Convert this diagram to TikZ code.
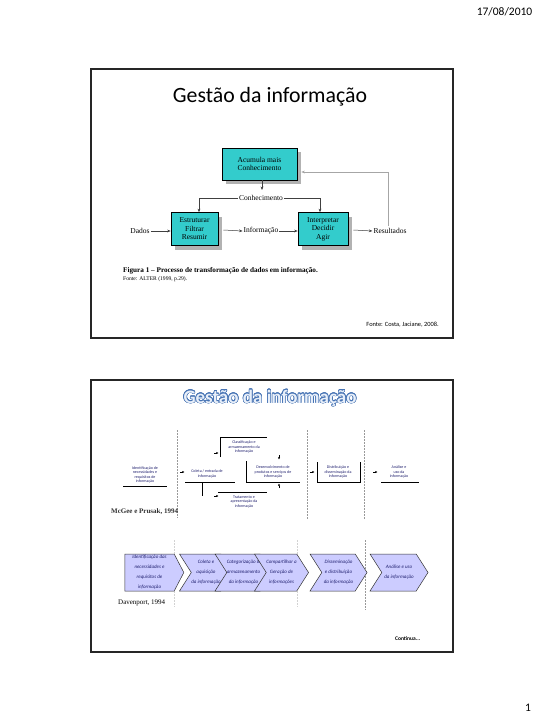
\documentclass[tikz,border=0pt]{standalone}
\usepackage{fontspec}
\setmainfont{Liberation Serif}
\newfontfamily\calib{Carlito}
\usetikzlibrary{arrows.meta,shapes.symbols,shadows}
\definecolor{tealbox}{RGB}{51,204,204}
\definecolor{lav}{RGB}{204,204,255}
\definecolor{navytext}{RGB}{31,31,110}
\definecolor{tblue}{RGB}{70,115,180}
\definecolor{tfill}{RGB}{232,239,249}
\begin{document}
\begin{tikzpicture}[x=1pt,y=-1pt,
  frame/.style={draw=black!85,line width=1.4pt},
  tbox/.style={draw=black,line width=0.6pt,fill=tealbox,align=center,inner sep=1pt,
    font=\fontsize{7.5}{8.5}\selectfont,
    drop shadow={shadow xshift=4pt,shadow yshift=-4pt,fill=gray!60,opacity=1}},
  lbl/.style={font=\fontsize{7.5}{8.5}\selectfont,inner sep=1pt},
  arr/.style={-{Stealth[length=3.5pt,width=2.8pt]},draw=black!75,line width=0.5pt},
  garr/.style={-{Stealth[length=3.5pt,width=2.8pt]},draw=gray!70,line width=0.6pt},
  ttl/.style={font=\calib\bfseries\fontsize{19}{21}\selectfont},
  mtxt/.style={font=\calib\fontsize{4}{4.5}\selectfont,text=navytext,align=center,inner sep=0pt},
  mline/.style={draw=black,line width=0.8pt},
  tiny/.style={-{Latex[length=2.2pt,width=2.2pt]},draw=black,line width=0.4pt},
  sep/.style={draw=gray!80,dashed,dash pattern=on 1.5pt off 1.5pt,line width=0.6pt},
  chev/.style={shape=signal,draw=gray!40!black,line width=0.5pt,fill=lav,signal to=east,
    signal pointer angle=115,minimum height=37pt,inner sep=0pt,align=center,
    font=\calib\itshape\fontsize{5}{10}\selectfont,text=navytext}]
\useasboundingbox (0,0) rectangle (540,720);
\fill[white] (0,0) rectangle (540,720);

% page header and number
\node[font=\calib\fontsize{11.5}{13}\selectfont] (date) at (504.5,12) {17/08/2010};
\node[font=\calib\fontsize{11.5}{13}\selectfont] (pnum) at (528,708) {1};

% ---------------- slide 1 ----------------
\draw[frame] (91,69) rectangle (453,338);
\node[font=\calib\fontsize{21.8}{24}\selectfont] (t1) at (270,97) {Gestão da informação};

\node[tbox,minimum width=75pt,minimum height=32pt] (acc) at (259.5,164) {Acumula mais\\Conhecimento};
\node[tbox,minimum width=47pt,minimum height=33pt] (est) at (194.5,229) {Estruturar\\Filtrar\\Resumir};
\node[tbox,minimum width=50pt,minimum height=33pt] (int) at (323,229) {Interpretar\\Decidir\\Agir};

\node[lbl] (conh) at (261,198) {Conhecimento};
\node[lbl] (dados) at (140,231) {Dados};
\node[lbl] (info) at (261,231) {Informação};
\node[lbl] (res) at (390,231) {Resultados};

\coordinate (kdown) at (262,190);
\draw[arr] (acc.south -| kdown) -- (kdown);
\draw[arr] (conh.west) -| ([shift={(4.5,0)}]est.north);
\draw[arr] (conh.east) -| ([shift={(-3,0)}]int.north);
\draw[arr] (dados.east) -- (est.west |- dados.east);
\draw[arr] ([shift={(5,1)}]est.east) -- (info.west);
\draw[arr] (info.east) -- (int.west |- info.east);
\draw[arr] ([shift={(5,1)}]int.east) -- (res.west);
\coordinate (fb) at (388,226);
\draw[garr] (fb) |- ([shift={(4,8)}]acc.east);

\node[anchor=west,font=\bfseries\fontsize{7.2}{8}\selectfont,inner sep=0pt] (cap) at (123,271)
  {Figura 1 -- Processo de transformação de dados em informação.};
\node[anchor=west,font=\fontsize{5.6}{6.5}\selectfont,inner sep=0pt] (capsrc) at (123,279)
  {Fonte: ALTER (1999, p.29).};
\node[anchor=east,font=\calib\fontsize{6.4}{7}\selectfont,inner sep=0pt] (src1) at (439,325)
  {Fonte: Costa, Jaciane, 2008.};

% ---------------- slide 2 ----------------
\draw[frame] (91,380) rectangle (453,652);
\foreach \a in {0,22.5,...,337.5}
  \node[ttl,text=tblue] (tc\a) at ([shift={(\a:0.55)}]270,398) {Gestão da informação};
\node[ttl,text=tfill] (t2) at (270,398) {Gestão da informação};

% McGee & Prusak
\draw[sep] (177,430) -- (177,518);
\draw[sep] (307,430) -- (307,520);
\draw[sep] (364,430) -- (364,520);

\node[mtxt] (m1) at (145,475) {Identificação de\\necessidades e\\requisitos de\\informação};
\coordinate (m1a) at (123,486); \coordinate (m1b) at (167,486);
\draw[mline] (m1a) -- (m1b);

\node[mtxt] (m2) at (207,474) {Coleta / entrada de\\informação};
\coordinate (m2a) at (185,482); \coordinate (m2b) at (235,482);
\coordinate (m2c) at (202,482); \coordinate (m2d) at (202,496);
\draw[mline] (m2a) -- (m2b);
\draw[mline] (m2c) -- (m2d);
\coordinate (a2s) at (180,472); \coordinate (a2e) at (184.5,472);
\draw[tiny] (a2s) -- (a2e);

\node[mtxt] (m3) at (244,447) {Classificação e\\armazenamento da\\informação};
\coordinate (m3a) at (220,457); \coordinate (m3b) at (220,437); \coordinate (m3c) at (267,437);
\draw[mline] (m3a) -- (m3b) -- (m3c);
\coordinate (a3s) at (214,453); \coordinate (a3e) at (218.5,453);
\draw[tiny] (a3s) -- (a3e);

\node[mtxt] (m4) at (244,502) {Tratamento e\\apresentação da\\informação};
\coordinate (m4a) at (218,492); \coordinate (m4b) at (267,492);
\draw[mline] (m4a) -- (m4b);
\coordinate (a4s) at (214,496); \coordinate (a4e) at (218.5,496);
\draw[tiny] (a4s) -- (a4e);

\node[mtxt] (m5) at (273,472) {Desenvolvimento de\\produtos e serviços de\\informação};
\coordinate (m5a) at (246,461); \coordinate (m5b) at (246,482); \coordinate (m5c) at (300,482);
\draw[mline] (m5a) -- (m5b) -- (m5c);
\coordinate (a5s) at (279,455); \coordinate (a5e) at (279,459.5);
\draw[tiny] (a5s) -- (a5e);
\coordinate (a6s) at (279,488); \coordinate (a6e) at (279,483.5);
\draw[tiny] (a6s) -- (a6e);

\node[mtxt] (m6) at (338,472) {Distribuição e\\disseminação da\\informação};
\coordinate (m6a) at (317,462); \coordinate (m6b) at (317,482);
\coordinate (m6c) at (360,482); \coordinate (m6d) at (360,462);
\draw[mline] (m6a) -- (m6b) -- (m6c) -- (m6d);
\coordinate (a7s) at (310,472); \coordinate (a7e) at (314.5,472);
\draw[tiny] (a7s) -- (a7e);

\node[mtxt] (m7) at (399,472) {Análise e\\uso da\\informação};
\coordinate (m7a) at (381,482); \coordinate (m7b) at (419,482);
\draw[mline] (m7a) -- (m7b);
\coordinate (a8s) at (373,472); \coordinate (a8e) at (377.5,472);
\draw[tiny] (a8s) -- (a8e);

\node[anchor=west,font=\bfseries\fontsize{7}{8}\selectfont,text=black!80,inner sep=0pt] (mg) at (111,512) {McGee e Prusak, 1994};

% Davenport
\draw[sep,draw=gray!35] (174,540) -- (174,607);
\draw[sep,draw=gray!35] (297,540) -- (297,607);
\draw[sep] (365,540) -- (365,610);

\node[chev,signal pointer angle=125,minimum width=59pt] (d1) at (149.5,572.5)
  {Identificação das\\necessidades e\\requisitos de\\informação};
\node[chev,signal from=west,minimum width=49pt] (d2) at (206,572.5) {Coleta e\\aquisição\\da informação};
\node[chev,signal from=west,minimum width=49pt] (d3) at (243.5,572.5) {Categorização \&\\armazenamento\\da informação};
\node[chev,signal from=west,minimum width=49pt] (d4) at (281.5,572.5) {Compartilhar a\\Geração de\\informações};
\node[chev,signal from=west,minimum width=57pt] (d5) at (338.5,572.5) {Disseminação\\e distribuição\\da informação};
\node[chev,signal from=west,minimum width=58pt] (d6) at (399,572.5) {Análise e uso\\da informação};

\node[anchor=west,font=\fontsize{7}{8}\selectfont,inner sep=0pt] (dv) at (118,603) {Davenport, 1994};
\node[anchor=west,font=\calib\bfseries\fontsize{5.5}{6}\selectfont,inner sep=0pt] (cont) at (395,639) {Continua...};
\end{tikzpicture}
\end{document}
